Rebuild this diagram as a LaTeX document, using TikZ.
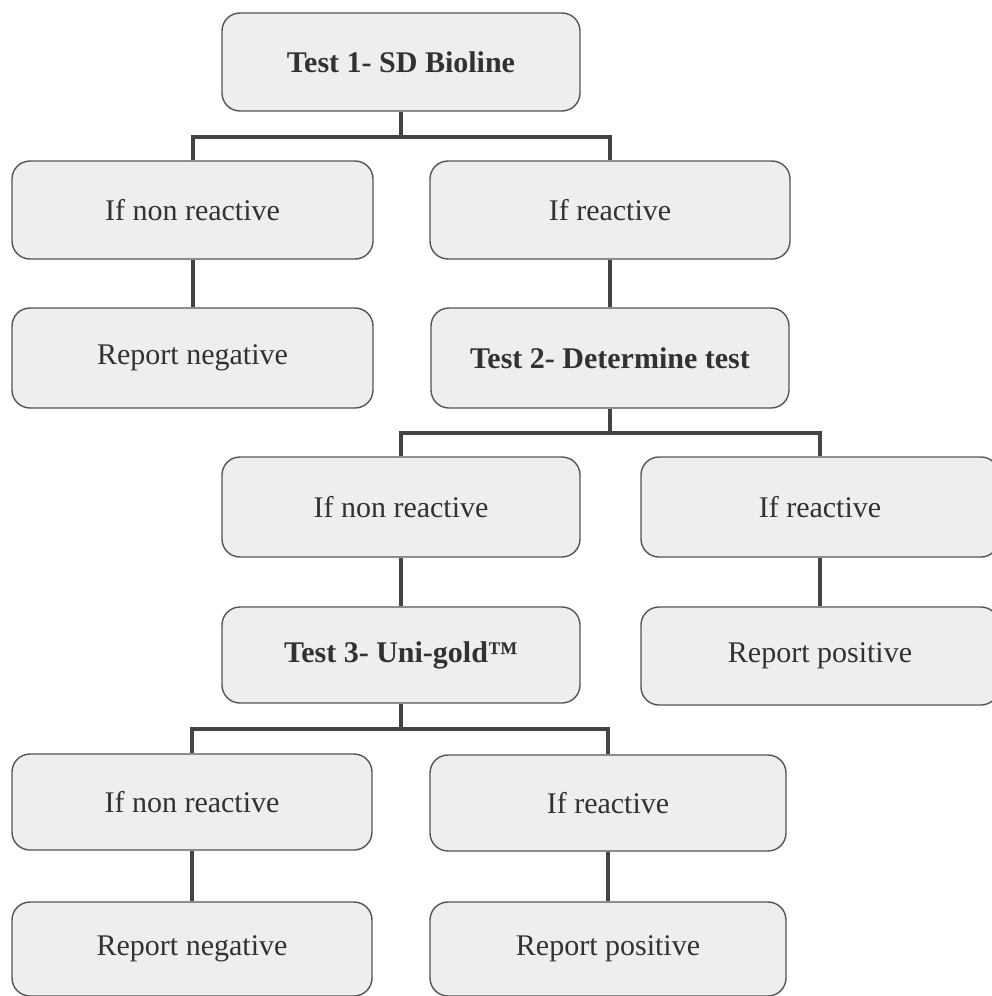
\documentclass[tikz,border=0pt]{standalone}
\usepackage{fontspec}
\setmainfont{Liberation Serif}
\definecolor{boxfill}{RGB}{236,238,239}
\definecolor{boxline}{RGB}{85,85,85}
\definecolor{ink}{RGB}{50,50,50}
\definecolor{bar}{RGB}{68,68,68}
\begin{document}
\begin{tikzpicture}[x=1pt,y=-1pt,
  box/.style={draw=boxline,line width=1.4pt,fill=boxfill,rounded corners=18pt,
    minimum width=358pt,minimum height=98pt,inner sep=0pt,text=ink,
    font=\fontsize{30}{36}\selectfont},
  testbox/.style={box,font=\fontsize{30}{36}\selectfont\bfseries},
  link/.style={draw=bar,line width=4pt}]
  \useasboundingbox (0,0) rectangle (991,996);
  % tests
  \node[testbox] (t1) at (401,62) {Test 1- SD Bioline};
  \node[testbox,minimum height=100pt] (t2) at (610,358) {Test 2- Determine test};
  \node[testbox,minimum height=96pt] (t3) at (401,655) {Test 3- Uni-gold™};
  % outcomes
  \node[box,minimum width=361pt] (a1) at (192.5,210) {If non reactive};
  \node[box,minimum width=360pt] (b1) at (610,210) {If reactive};
  \node[box,minimum width=361pt,minimum height=100pt] (a2) at (192.5,358) {Report negative};
  \node[box,minimum height=100pt] (c1) at (401,507) {If non reactive};
  \node[box,minimum height=100pt] (d1) at (820,507) {If reactive};
  \node[box] (d2) at (820,656) {Report positive};
  \node[box,minimum width=360pt,minimum height=96pt] (e1) at (192,802) {If non reactive};
  \node[box,minimum width=356pt,minimum height=96pt] (f1) at (608,803) {If reactive};
  \node[box,minimum width=360pt,minimum height=94pt] (e2) at (192,949) {Report negative};
  \node[box,minimum width=356pt,minimum height=94pt] (f2) at (608,949) {Report positive};
  % branches
  \draw[link] (t1.south) -- ++(0,25) coordinate (j1);
  \draw[link] (a1.north) |- (j1) -| (b1.north);
  \draw[link] (t2.south) -- ++(0,24) coordinate (j2);
  \draw[link] (c1.north) |- (j2) -| (d1.north);
  \draw[link] (t3.south) -- ++(0,25) coordinate (j3);
  \draw[link] (e1.north) |- (j3) -| (f1.north);
  \foreach \u/\v in {a1/a2,b1/t2,c1/t3,d1/d2,e1/e2,f1/f2}
    \draw[link] (\u) -- (\v);
\end{tikzpicture}
\end{document}
